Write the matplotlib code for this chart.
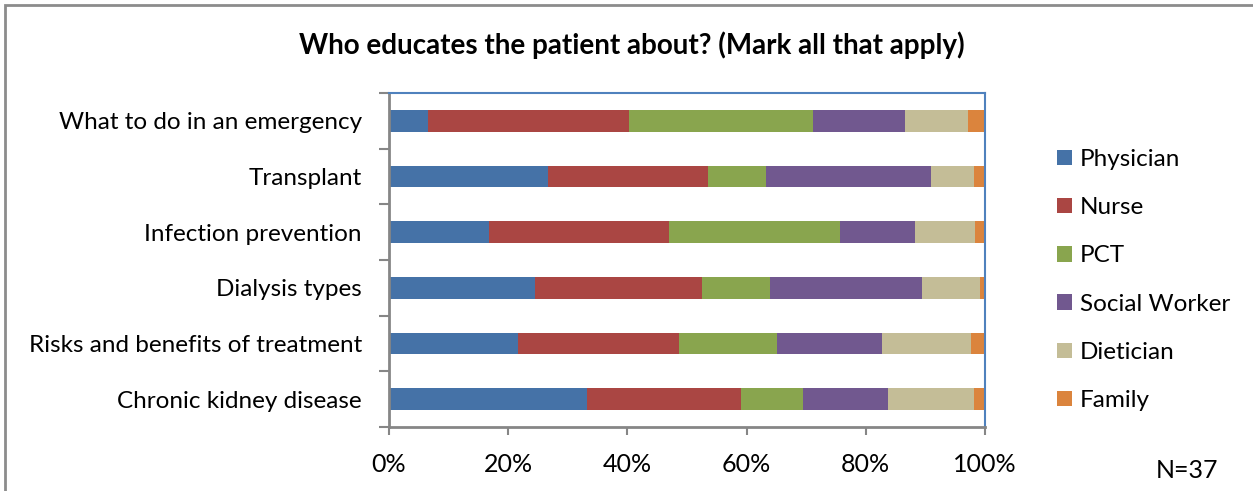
import matplotlib
matplotlib.use("Agg")
import matplotlib.pyplot as plt
from matplotlib.patches import Rectangle, Patch
import numpy as np

# Data (share of responses, %)
topics = ["What to do in an emergency", "Transplant", "Infection prevention",
          "Dialysis types", "Risks and benefits of treatment", "Chronic kidney disease"]
physician = [6.6, 26.7, 16.7, 24.5, 21.7, 33.3]
nurse = [33.7, 26.8, 30.2, 28.1, 27.0, 25.7]
pct = [30.9, 9.8, 28.7, 11.4, 16.4, 10.5]
social_worker = [15.4, 27.6, 12.6, 25.4, 17.7, 14.3]
dietician = [10.6, 7.2, 10.1, 9.7, 14.9, 14.3]
family = [2.8, 1.9, 1.7, 0.9, 2.3, 1.9]

series = ["Physician", "Nurse", "PCT", "Social Worker", "Dietician", "Family"]
colors = ["#4572A7", "#AA4643", "#89A54E", "#71588F", "#C4BD97", "#DB843D"]

plt.rcParams['font.family'] = ['Lato', 'DejaVu Sans']

W, H = 1253, 491
fig = plt.figure(figsize=(W / 100, H / 100), dpi=100)

# outer chart border (only top/left visible)
fig.patches.append(Rectangle((5 / W, -0.1), 1.2, 1 - 5 / H + 0.1, transform=fig.transFigure,
                             fill=False, edgecolor="#8c8c8c", linewidth=2))

ax = fig.add_axes([389 / W, 1 - 427 / H, (985 - 389) / W, (427 - 93) / H])

values = [physician, nurse, pct, social_worker, dietician, family]
y = np.arange(len(topics))
left = np.zeros(len(topics))
for name, vals, c in zip(series, values, colors):
    ax.barh(y, vals, left=left, height=0.39, color=c, label=name)
    left += np.array(vals)

ax.set_xlim(0, 100)
ax.set_ylim(len(topics) - 0.5, -0.5)

ax.set_xticks(np.arange(0, 101, 20))
ax.set_xticklabels(["{}%".format(v) for v in range(0, 101, 20)], fontsize=18)
ax.tick_params(axis="x", length=6, width=1.5, color="#868686", pad=13)

ax.set_yticks(y)
ax.set_yticklabels(topics, fontsize=17.5)
ax.tick_params(axis="y", which="major", length=0, pad=19.5)
ax.set_yticks(np.arange(-0.5, len(topics)), minor=True)
ax.tick_params(axis="y", which="minor", length=7, width=1.5, color="#868686")

for s in ["left", "bottom"]:
    ax.spines[s].set_color("#868686")
    ax.spines[s].set_linewidth(2)
for s in ["top", "right"]:
    ax.spines[s].set_color("#4F81BD")
    ax.spines[s].set_linewidth(1.5)

fig.text(632 / W, 1 - 45 / H, "Who educates the patient about? (Mark all that apply)",
         ha="center", va="center", fontsize=20, fontweight="bold")

handles = [Patch(facecolor=c, label=n) for n, c in zip(series, colors)]
fig.legend(handles=handles, loc="upper left", bbox_to_anchor=(1057 / W, 1 - 149 / H),
           frameon=False, fontsize=17.5, handlelength=0.6, handleheight=0.6,
           handletextpad=0.35, labelspacing=1.12, borderpad=0, borderaxespad=0)

fig.text(1187 / W, 1 - 470 / H, "N=37", ha="center", va="center", fontsize=18)

fig.savefig("out.png", dpi=100)
